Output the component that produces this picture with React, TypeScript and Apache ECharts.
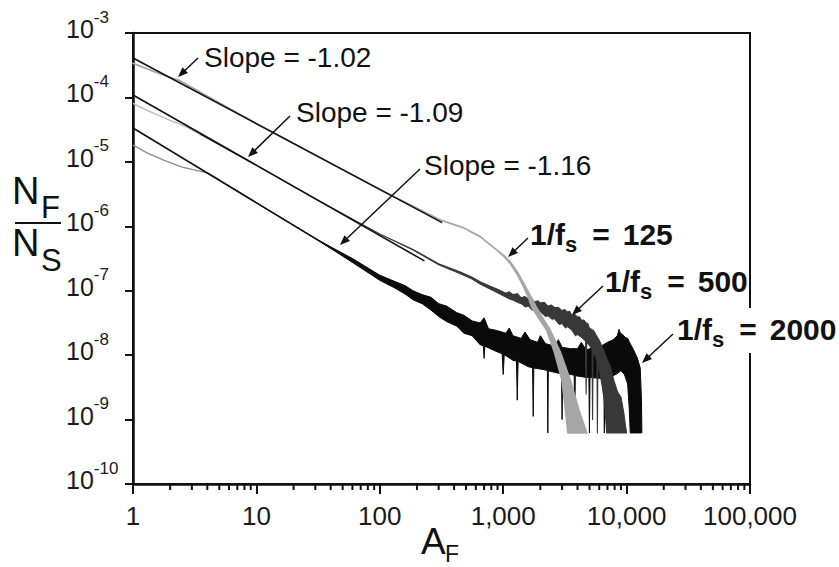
import React, { useEffect, useRef } from 'react';
import * as echarts from 'echarts';

const FONT = "'Liberation Sans', Arial, Helvetica, sans-serif";

// x-axis minor tick values (log-spaced 2..9 within each decade)
const minorTicks = [
  2, 3, 4, 5, 6, 7, 8, 9,
  20, 30, 40, 50, 60, 70, 80, 90,
  200, 300, 400, 500, 600, 700, 800, 900,
  2000, 3000, 4000, 5000, 6000, 7000, 8000, 9000,
  20000, 30000, 40000, 50000, 60000, 70000, 80000, 90000,
];

// fitted power-law lines [A_F, N_F/N_S]
const fit102 = [[1, 4.1e-4], [320, 1.14e-6]];
const fit109 = [[1, 1.09e-4], [230, 2.9e-7]];
const fit116 = [[1, 3.35e-5], [100, 1.6e-7]];

// small-A heads of the 500 and 2000 curves (printed pale in the figure)
const s500Head = [[1, 8.1e-5], [1.3, 6.3e-5], [1.8, 4.79e-5], [2.74, 3.47e-5], [3.5, 2.7e-5]];
const s2000Head = [[1, 1.82e-5], [1.3, 1.38e-5], [1.75, 1.07e-5], [2.5, 8.3e-6], [4, 6.76e-6], [5, 5.3e-6]];

// 1/fs = 125 (light gray) envelope
const s125Upper = [
  [1, 3.39e-4], [1.4, 2.63e-4], [1.8, 2.19e-4], [2.4, 1.82e-4], [10, 3.9e-5], [100, 3.73e-6],
  [307, 1.26e-6], [472, 9.55e-7], [650, 6.9e-7], [890, 4.27e-7], [1000, 3.6e-7], [1150, 2.75e-7],
  [1300, 1.95e-7], [1500, 1.2e-7], [1700, 7.6e-8], [1850, 5.62e-8], [2100, 3.7e-8], [2400, 2.45e-8],
  [2900, 1.12e-8], [3500, 4.07e-9], [4100, 1.41e-9], [4750, 6.2e-10],
];
const s125Lower = [
  [1, 3.39e-4], [1.4, 2.63e-4], [1.8, 2.19e-4], [2.4, 1.82e-4], [10, 3.9e-5], [100, 3.73e-6],
  [307, 1.26e-6], [472, 9.55e-7], [650, 6.9e-7], [890, 4.27e-7], [1000, 3.5e-7], [1150, 2.6e-7],
  [1300, 1.8e-7], [1450, 1.2e-7], [1600, 7.9e-8], [1700, 5.62e-8], [1950, 3.7e-8], [2250, 2.45e-8],
  [2600, 1.12e-8], [3000, 4.07e-9], [3200, 1.41e-9], [3350, 6.2e-10],
];

// 1/fs = 500 (dark gray) envelope
const s500Upper = [
  [2.74, 3.47e-5], [10, 8.85e-6], [30, 2.67e-6],
  [100, 7.6e-7], [186, 4.37e-7], [300, 2.63e-7], [450, 1.95e-7], [560, 1.62e-7], [650, 1.38e-7],
  [760, 1.2e-7], [900, 1.05e-7], [1050, 9.1e-8], [1120, 9.6e-8], [1200, 8.7e-8], [1300, 9.0e-8],
  [1400, 7.76e-8], [1500, 8.1e-8], [1600, 7.4e-8], [1700, 7.6e-8], [1800, 6.6e-8], [1900, 7.0e-8],
  [2000, 6.46e-8], [2150, 6.6e-8], [2300, 5.75e-8], [2450, 6.0e-8], [2600, 5.5e-8], [2800, 5.5e-8],
  [3000, 4.9e-8], [3150, 5.1e-8], [3300, 4.68e-8], [3450, 4.8e-8], [3600, 4.17e-8], [3800, 4.3e-8],
  [4000, 3.9e-8], [4150, 3.95e-8], [4300, 3.47e-8], [4500, 3.5e-8], [4700, 3.16e-8], [4850, 3.1e-8],
  [5000, 2.63e-8], [5400, 2.4e-8], [5700, 2.0e-8], [6000, 1.7e-8], [6500, 1.2e-8], [7000, 8.3e-9],
  [7340, 6.9e-9], [7900, 3.98e-9], [8500, 2.6e-9], [9000, 2.24e-9], [9500, 1.26e-9], [9800, 7.9e-10],
  [10000, 6.2e-10],
];
const s500Lower = [
  [2.74, 3.47e-5], [10, 8.85e-6], [30, 2.67e-6],
  [100, 7.6e-7], [186, 4.3e-7], [300, 2.52e-7], [450, 1.84e-7], [560, 1.52e-7], [650, 1.27e-7],
  [760, 1.09e-7], [900, 9.3e-8], [1050, 8.0e-8], [1150, 7.3e-8], [1200, 7.2e-8], [1330, 6.5e-8],
  [1400, 6.3e-8], [1520, 5.6e-8], [1600, 5.8e-8], [1720, 5.0e-8], [1800, 5.2e-8], [2000, 4.8e-8],
  [2200, 4.0e-8], [2300, 4.1e-8], [2500, 3.6e-8], [2600, 3.7e-8], [2850, 3.0e-8], [3000, 3.1e-8],
  [3200, 2.65e-8], [3300, 2.8e-8], [3600, 2.45e-8], [3850, 2.0e-8], [4000, 2.1e-8], [4300, 1.9e-8],
  [4650, 1.66e-8], [4700, 2.5e-9], [4750, 1.62e-8], [5000, 1.41e-8], [5250, 1.26e-8], [5300, 1.0e-9],
  [5350, 1.12e-8], [5600, 9.5e-9], [5750, 7.9e-9], [5800, 6.2e-10], [5850, 7.1e-9], [6000, 5.9e-9],
  [6300, 3.55e-9], [6600, 2.0e-9], [6900, 6.2e-10],
];

// 1/fs = 2000 (black) envelope
const s2000Upper = [
  [4, 6.76e-6], [10, 2.32e-6],
  [30, 6.46e-7], [60, 3.16e-7], [100, 1.74e-7], [130, 1.41e-7], [160, 1.2e-7], [186, 1.0e-7],
  [220, 8.7e-8], [260, 7.9e-8], [300, 6.3e-8], [350, 5.75e-8], [420, 4.57e-8], [480, 4.17e-8],
  [560, 3.4e-8], [650, 3.16e-8], [700, 3.8e-8], [760, 2.57e-8], [900, 2.4e-8], [1050, 2.19e-8],
  [1120, 2.63e-8], [1200, 2.0e-8], [1400, 1.82e-8], [1500, 2.29e-8], [1650, 1.74e-8], [1900, 1.58e-8],
  [2000, 2.0e-8], [2200, 1.51e-8], [2600, 1.38e-8], [2800, 1.74e-8], [3000, 1.32e-8], [3500, 1.26e-8],
  [4000, 1.26e-8], [4300, 1.58e-8], [4700, 1.2e-8], [5400, 1.32e-8], [5800, 1.74e-8], [6200, 1.38e-8],
  [7000, 1.58e-8], [7800, 1.74e-8], [8400, 2.0e-8], [8700, 2.51e-8], [8900, 2.19e-8], [9300, 2.09e-8],
  [9700, 1.9e-8], [10200, 1.82e-8], [10700, 1.51e-8], [11400, 1.2e-8], [12200, 9.1e-9], [12900, 6.3e-9],
  [13200, 2.0e-9], [13300, 6.2e-10],
];
const s2000Lower = [
  [4, 6.76e-6], [10, 2.32e-6],
  [30, 6.46e-7], [60, 2.75e-7], [100, 1.45e-7], [130, 1.12e-7], [160, 8.9e-8], [186, 7.24e-8],
  [220, 6.3e-8], [260, 5.0e-8], [300, 3.98e-8], [350, 3.3e-8], [420, 2.82e-8], [480, 2.19e-8],
  [560, 2.0e-8], [650, 1.45e-8], [690, 1.4e-8], [700, 8.9e-9], [710, 1.38e-8], [900, 1.12e-8],
  [980, 1.05e-8], [1000, 5.0e-9], [1020, 1.02e-8], [1200, 8.3e-9], [1280, 8.1e-9], [1300, 2.0e-9],
  [1320, 8.0e-9], [1600, 6.6e-9], [1730, 6.4e-9], [1750, 1.12e-9], [1770, 6.3e-9], [2100, 6.0e-9],
  [2280, 5.8e-9], [2300, 6.2e-10], [2320, 5.7e-9], [2800, 5.25e-9], [2970, 5.1e-9], [3000, 1.0e-9],
  [3030, 5.0e-9], [3500, 5.0e-9], [3760, 4.9e-9], [3800, 6.2e-10], [3840, 4.8e-9], [4500, 4.57e-9],
  [4950, 4.5e-9], [5000, 6.2e-10], [5050, 4.5e-9], [6000, 4.37e-9], [6540, 4.37e-9], [6600, 6.2e-10],
  [6660, 4.37e-9], [7800, 4.79e-9], [8500, 5.25e-9], [9000, 5.75e-9], [9600, 5.0e-9], [10200, 3.55e-9],
  [10500, 1.5e-9], [10700, 6.2e-10], [13300, 6.2e-10],
];

const slopeLabels = ['Slope = -1.02', 'Slope = -1.09', 'Slope = -1.16'];
const fsLabels = ['125', '500', '2000'];

function bandSeries(name: string, upper: number[][], lower: number[][], color: string, lw: number, z: number) {
  const poly = upper.concat(lower.slice().reverse());
  return {
    type: 'custom',
    name,
    coordinateSystem: 'cartesian2d',
    xAxisIndex: 0,
    yAxisIndex: 0,
    z,
    silent: true,
    data: poly,
    encode: { x: 0, y: 1 },
    renderItem: (params: any, api: any) => {
      if (params.dataIndex !== 0) return null;
      const pts = poly.map((p) => api.coord(p));
      return {
        type: 'polygon',
        shape: { points: pts },
        style: { fill: color, stroke: color, lineWidth: lw, lineJoin: 'round' },
      };
    },
  };
}

function arrow(x1: number, y1: number, x2: number, y2: number) {
  const dx = x2 - x1;
  const dy = y2 - y1;
  const len = Math.hypot(dx, dy);
  const ux = dx / len;
  const uy = dy / len;
  const hl = 10;
  const hw = 4;
  const bx = x2 - ux * hl;
  const by = y2 - uy * hl;
  return [
    { type: 'line', z: 100, shape: { x1, y1, x2: bx + ux * 2, y2: by + uy * 2 }, style: { stroke: '#111', lineWidth: 1.5 } },
    {
      type: 'polygon',
      z: 100,
      shape: { points: [[x2, y2], [bx - uy * hw, by + ux * hw], [bx + uy * hw, by - ux * hw]] },
      style: { fill: '#111' },
    },
  ];
}

const fsRich = {
  a: { fontSize: 30, fontWeight: 'bold', fontFamily: FONT, fill: '#111', lineHeight: 30, verticalAlign: 'top' },
  s: { fontSize: 22, fontWeight: 'bold', fontFamily: FONT, fill: '#111', lineHeight: 36, verticalAlign: 'bottom' },
  e: { fontSize: 30, fontWeight: 'bold', fontFamily: FONT, fill: '#111', lineHeight: 30, verticalAlign: 'top', padding: [0, 13, 0, 15] },
};

function fsText(label: string, x: number, y: number) {
  return {
    type: 'text',
    z: 101,
    style: {
      text: `{a|1/f}{s|s}{e|=}{a|${label}}`,
      x,
      y,
      verticalAlign: 'top',
      rich: fsRich,
    },
  };
}

function slopeText(label: string, x: number, y: number) {
  return {
    type: 'text',
    z: 101,
    style: { text: label, x, y, fontSize: 28, fontFamily: FONT, fill: '#111', verticalAlign: 'middle' },
  };
}

function headSeries(name: string, data: number[][], color: string) {
  return { type: 'line', name, data, showSymbol: false, silent: true, z: 5, lineStyle: { color, width: 1.3 } };
}

export default function App() {
  const ref = useRef<HTMLDivElement>(null);
  useEffect(() => {
    if (!ref.current) return;
    const chart = echarts.init(ref.current, undefined, { renderer: 'svg' });
    const txt = { fontFamily: FONT, fill: '#111' };
    const option: any = {
      animation: false,
      backgroundColor: '#ffffff',
      grid: { left: 133, right: 89, top: 33, bottom: 83, show: true, borderColor: '#111', borderWidth: 2 },
      xAxis: {
        type: 'log',
        logBase: 10,
        min: 1,
        max: 100000,
        splitNumber: 5,
        axisLine: { show: true, onZero: false, lineStyle: { color: '#111', width: 2.5 } },
        axisTick: { show: true, length: 10, lineStyle: { color: '#111', width: 2 } },
        minorTick: { show: false },
        splitLine: { show: false },
        axisLabel: {
          margin: 19,
          fontSize: 26,
          fontFamily: FONT,
          color: '#1a1a1a',
          formatter: (v: number) => Math.round(v).toLocaleString('en-US'),
        },
      },
      yAxis: {
        type: 'log',
        logBase: 10,
        min: 1e-10,
        max: 1e-3,
        splitNumber: 7,
        axisLine: { show: true, onZero: false, lineStyle: { color: '#111', width: 2.5 } },
        axisTick: { show: true, length: 8, lineStyle: { color: '#111', width: 2 } },
        splitLine: { show: false },
        axisLabel: {
          align: 'left',
          margin: 67,
          padding: [0, 0, 16, 0],
          formatter: (v: number) => `{b|10}{s|${Math.round(Math.log10(v))}}`,
          rich: {
            b: { fontSize: 25, fontFamily: FONT, color: '#1a1a1a', lineHeight: 33, verticalAlign: 'bottom' },
            s: { fontSize: 17, fontFamily: FONT, color: '#1a1a1a', lineHeight: 16, verticalAlign: 'top' },
          },
        },
      },
      series: [
        bandSeries('1/fs = 2000', s2000Upper, s2000Lower, '#0a0a0a', 1, 2),
        bandSeries('1/fs = 500', s500Upper, s500Lower, '#383838', 1.1, 3),
        bandSeries('1/fs = 125', s125Upper, s125Lower, '#a6a6a6', 1.8, 4),
        headSeries('1/fs = 500 (small A)', s500Head, '#b8b8b8'),
        headSeries('1/fs = 2000 (small A)', s2000Head, '#8c8c8c'),
        { type: 'line', name: 'fit -1.02', data: fit102, showSymbol: false, silent: true, z: 6, lineStyle: { color: '#111', width: 1.6 } },
        { type: 'line', name: 'fit -1.09', data: fit109, showSymbol: false, silent: true, z: 6, lineStyle: { color: '#111', width: 1.6 } },
        { type: 'line', name: 'fit -1.16', data: fit116, showSymbol: false, silent: true, z: 6, lineStyle: { color: '#111', width: 1.6 } },
        {
          type: 'custom',
          name: 'minor ticks',
          silent: true,
          clip: false,
          z: 7,
          data: minorTicks.map((v) => [v, 1e-10]),
          encode: { x: 0, y: 1 },
          renderItem: (params: any, api: any) => {
            const p = api.coord([api.value(0), api.value(1)]);
            return { type: 'line', shape: { x1: p[0], y1: p[1], x2: p[0], y2: p[1] + 6 }, style: { stroke: '#111', lineWidth: 2 } };
          },
        },
      ],
      graphic: {
        elements: [
          // y-axis title N_F / N_S
          { type: 'text', z: 100, style: { ...txt, text: 'N', x: 12, y: 191, fontSize: 38, verticalAlign: 'middle' } },
          { type: 'text', z: 100, style: { ...txt, text: 'F', x: 41, y: 207, fontSize: 31, verticalAlign: 'middle' } },
          { type: 'rect', z: 100, shape: { x: 15, y: 222, width: 46, height: 2 }, style: { fill: '#111' } },
          { type: 'text', z: 100, style: { ...txt, text: 'N', x: 12, y: 243, fontSize: 38, verticalAlign: 'middle' } },
          { type: 'text', z: 100, style: { ...txt, text: 'S', x: 41, y: 260, fontSize: 31, verticalAlign: 'middle' } },
          // x-axis title A_F
          { type: 'text', z: 100, style: { ...txt, text: 'A', x: 421, y: 541, fontSize: 37, verticalAlign: 'middle' } },
          { type: 'text', z: 100, style: { ...txt, text: 'F', x: 445, y: 554, fontSize: 23, verticalAlign: 'middle' } },
          // slope annotations
          slopeText(slopeLabels[0], 204, 57),
          ...arrow(198, 58, 178, 77),
          slopeText(slopeLabels[1], 296, 112),
          ...arrow(290, 116, 248, 157),
          slopeText(slopeLabels[2], 424, 165),
          ...arrow(420, 169, 340, 245),
          // 1/fs annotations
          { type: 'rect', z: 99, shape: { x: 676, y: 308, width: 90, height: 45 }, style: { fill: '#fff' } },
          fsText(fsLabels[0], 530, 219),
          ...arrow(528, 238, 508, 257),
          fsText(fsLabels[1], 605, 266),
          ...arrow(603, 286, 572, 315),
          fsText(fsLabels[2], 677, 314),
          ...arrow(673, 334, 642, 363),
        ],
      },
    };
    chart.setOption(option);
    return () => chart.dispose();
  }, []);
  return <div ref={ref} style={{ position: 'fixed', left: 0, top: 0, width: 839, height: 567 }} />;
}
